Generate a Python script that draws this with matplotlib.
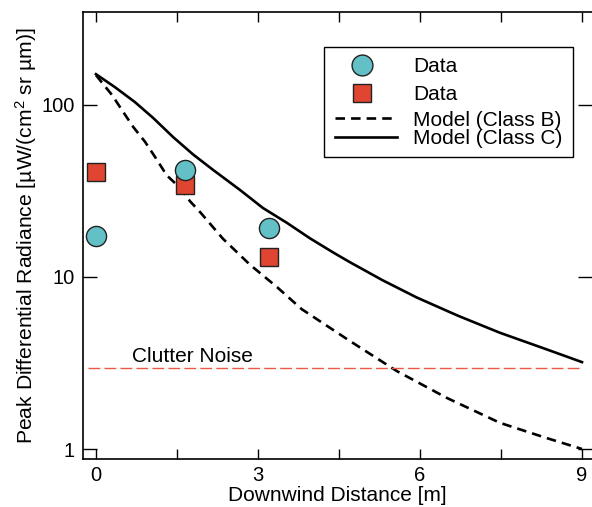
import matplotlib
matplotlib.use("Agg")
import matplotlib.pyplot as plt
from matplotlib.lines import Line2D
from matplotlib.patches import Rectangle

plt.rcParams['font.family'] = ['Liberation Sans', 'DejaVu Sans']
plt.rcParams['mathtext.fontset'] = 'custom'
plt.rcParams['mathtext.rm'] = 'Liberation Sans'
plt.rcParams['mathtext.it'] = 'Liberation Sans'

# measured data
circle_x = [0.0, 1.65, 3.2]
circle_y = [17.3, 41.9, 19.3]
square_x = [0.0, 1.65, 3.2]
square_y = [40.8, 34.3, 13.1]

# model curves
class_b_x = [0.0, 0.30, 0.48, 0.69, 0.91, 1.13, 1.31, 1.56, 1.74, 1.93, 2.35, 2.85,
             3.35, 3.81, 4.7, 5.57, 6.5, 7.48, 8.3, 9.0]
class_b_y = [149, 114, 93.5, 74.5, 61, 47.9, 39, 32.9, 27.6, 23.8, 16.7, 11.8,
             8.75, 6.5, 4.25, 2.84, 1.98, 1.42, 1.17, 1.0]
class_c_x = [0.0, 0.35, 0.72, 1.06, 1.43, 1.80, 2.17, 2.67, 3.09, 3.54, 3.96, 4.39,
             4.70, 5.3, 5.94, 6.7, 7.48, 8.3, 9.0]
class_c_y = [151, 127, 104, 84, 65, 51.5, 41.9, 32, 25.2, 20.6, 16.8, 13.9,
             12.2, 9.6, 7.6, 5.96, 4.74, 3.84, 3.2]

clutter_x = [-0.15, 9.0]
clutter_y = [2.97, 2.97]

legend_labels = ['Data', 'Data', 'Model (Class B)', 'Model (Class C)']

teal = '#62c0c6'
red = '#df4530'
edge = '#222222'

W, H = 592, 507
fig = plt.figure(figsize=(W / 100, H / 100), dpi=100)
ax = fig.add_axes([83 / W, 1 - 459 / H, 509 / W, 447 / H])

ax.plot(class_b_x, class_b_y, color='black', lw=1.9, dashes=(3.6, 2.3))
ax.plot(class_c_x, class_c_y, color='black', lw=1.9)
ax.plot(clutter_x, clutter_y, color='#e85a45', lw=1.0, dashes=(8.5, 3))
ax.text(0.67, 3.2, 'Clutter Noise', fontsize=15, ha='left', va='baseline')

ax.plot(square_x, square_y, ls='none', marker='s', ms=13.5, mfc=red, mec=edge, mew=1.0)
ax.plot(circle_x, circle_y, ls='none', marker='o', ms=14.5, mfc=teal, mec=edge, mew=1.0)

ax.set_yscale('log')
ax.set_xlim(-0.24, 9.185)
ax.set_ylim(0.875, 347)

ax.set_xticks([0, 3, 6, 9])
ax.set_xticks([1.5, 4.5, 7.5], minor=True)
ax.set_yticks([1, 10, 100])
ax.set_yticklabels(['1', '10', '100'])
ax.yaxis.set_minor_locator(matplotlib.ticker.NullLocator())
ax.tick_params(axis='x', which='both', direction='in', length=7.5, width=1.0,
               top=True, labelsize=14.5, pad=5)
ax.tick_params(axis='y', which='major', direction='in', length=10, width=1.0,
               right=True, labelsize=14.5, pad=6)
for s in ax.spines.values():
    s.set_linewidth(1.2)
ax.spines['right'].set_visible(False)

ax.set_xlabel('Downwind Distance [m]', fontsize=15, labelpad=1)
ax.set_ylabel(r'Peak Differential Radiance [µW/(cm$^2$ sr µm)]', fontsize=15.2, labelpad=2)


# legend drawn by hand so that the uneven row spacing matches
def fp(x, y):
    return x / W, 1 - y / H


fx, fy = fp(324, 157)
fig.add_artist(Rectangle((fx, fy), 249 / W, 110 / H, transform=fig.transFigure,
                         fill=False, edgecolor='black', lw=1.0))
row_y = [65, 93, 118, 137]
handles = [
    dict(ls='none', marker='o', ms=15, mfc=teal, mec=edge, mew=1.0),
    dict(ls='none', marker='s', ms=13.5, mfc=red, mec=edge, mew=1.0),
    dict(color='black', lw=1.9, dashes=(3.6, 2.3)),
    dict(color='black', lw=1.9),
]
for label, yy, kw in zip(legend_labels, row_y, handles):
    if kw.get('ls') == 'none':
        xs = [fp(362, yy)[0]]
        ys = [fp(362, yy)[1]]
    else:
        xs = [fp(335, yy)[0], fp(397, yy)[0]]
        ys = [fp(335, yy)[1]] * 2
    fig.add_artist(Line2D(xs, ys, transform=fig.transFigure, **kw))
    tx, ty = fp(413, yy + 7.5)
    fig.text(tx, ty, label, fontsize=15, ha='left', va='baseline')

fig.savefig('out.png', dpi=100)
